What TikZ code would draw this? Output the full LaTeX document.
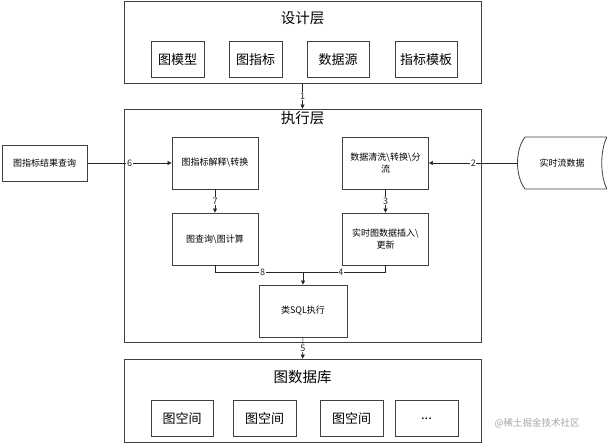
\documentclass[tikz,border=0pt]{standalone}
\usepackage{fontspec}
\setmainfont{Noto Sans CJK SC}
\usetikzlibrary{positioning, arrows.meta}

\newcommand{\bs}{\textbackslash}

\begin{document}
\begin{tikzpicture}[
    x=1pt, y=-1pt,
    layer/.style={rectangle, draw=black!75, line width=0.8pt, minimum width=357pt, inner sep=0pt},
    title/.style={font=\fontsize{14.5}{16}\selectfont},
    item/.style={rectangle, draw=black!75, line width=0.8pt, minimum height=36pt, inner sep=0pt, font=\fontsize{13}{15}\selectfont},
    step box/.style={rectangle, draw=black!75, line width=0.8pt, minimum width=86pt, minimum height=52pt, inner sep=0pt, align=center, font=\fontsize{9}{12}\selectfont},
    arrow/.style={-{Triangle[length=4pt, width=4pt]}, line width=0.6pt, black!85},
    num/.style={fill=white, inner sep=0.6pt, font=\fontsize{9}{10}\selectfont},
]
    \useasboundingbox (0,0) rectangle (607,445);

    % Design layer
    \node[layer, minimum height=82pt] (design) at (302.5,42) {};
    \node[title] (designtitle) at (302.5,18) {设计层};
    \node[item, minimum width=53pt] (model) at (177.5,59.5) {图模型};
    \node[item, minimum width=53pt] (metric) at (255.5,59.5) {图指标};
    \node[item, minimum width=62pt] (source) at (338,59.5) {数据源};
    \node[item, minimum width=62pt] (template) at (426,59.5) {指标模板};

    % Execution layer
    \node[layer, minimum height=233pt] (exec) at (302.5,225.5) {};
    \node[title] (exectitle) at (302.5,118) {执行层};
    \node[step box] (interp) at (215,163) {图指标解释\bs 转换};
    \node[step box] (clean) at (385.5,163) {数据清洗\bs 转换\bs 分\\流};
    \node[step box] (query) at (215,239) {图查询\bs 图计算};
    \node[step box] (update) at (385.5,239) {实时图数据插入\bs\\更新};
    \node[step box, minimum width=88pt] (sql) at (303,311) {类SQL执行};
    \coordinate (join) at (303,272);

    % Graph database
    \node[layer, minimum height=83pt] (db) at (302.5,400.5) {};
    \node[title] (dbtitle) at (302.5,377) {图数据库};
    \node[item, minimum width=62pt] (space1) at (182,418.5) {图空间};
    \node[item, minimum width=63pt] (space2) at (264.5,418.5) {图空间};
    \node[item, minimum width=63pt] (space3) at (351.5,418.5) {图空间};
    \node[item, minimum width=63pt] (more) at (426.5,418.5) {...};

    % Outside
    \node[step box, minimum width=85pt, minimum height=36pt] (result) at (44.5,163) {图指标结果查询};
    \node[font=\fontsize{9}{12}\selectfont, minimum width=88pt, minimum height=52pt] (stream) at (562,163) {实时流数据};
    \draw[black!75, line width=0.8pt] (525,137) -- (607,137)
        .. controls (600,150) and (600,176) .. (607,189) -- (525,189)
        .. controls (515,176) and (515,150) .. (525,137);

    % Arrows
    \draw[arrow] (design) -- node[num] {1} (exec);
    \draw[arrow] (stream) -- node[num] {2} (clean);
    \draw[arrow] (clean) -- node[num] {3} (update);
    \draw[arrow, -] (update.south) |- node[num, pos=0.77] {4} (join);
    \draw[arrow, -] (query.south) |- node[num, pos=0.77] {8} (join);
    \draw[arrow] (join) -- (sql);
    \draw[arrow] (sql) -- node[num] {5} (db);
    \draw[arrow] (result) -- node[num] {6} (interp);
    \draw[arrow] (interp) -- node[num] {7} (query);

    % Watermark
    \node[text=black!35, font=\fontsize{9.5}{11}\selectfont] (mark) at (537,423) {@稀土掘金技术社区};
\end{tikzpicture}
\end{document}
